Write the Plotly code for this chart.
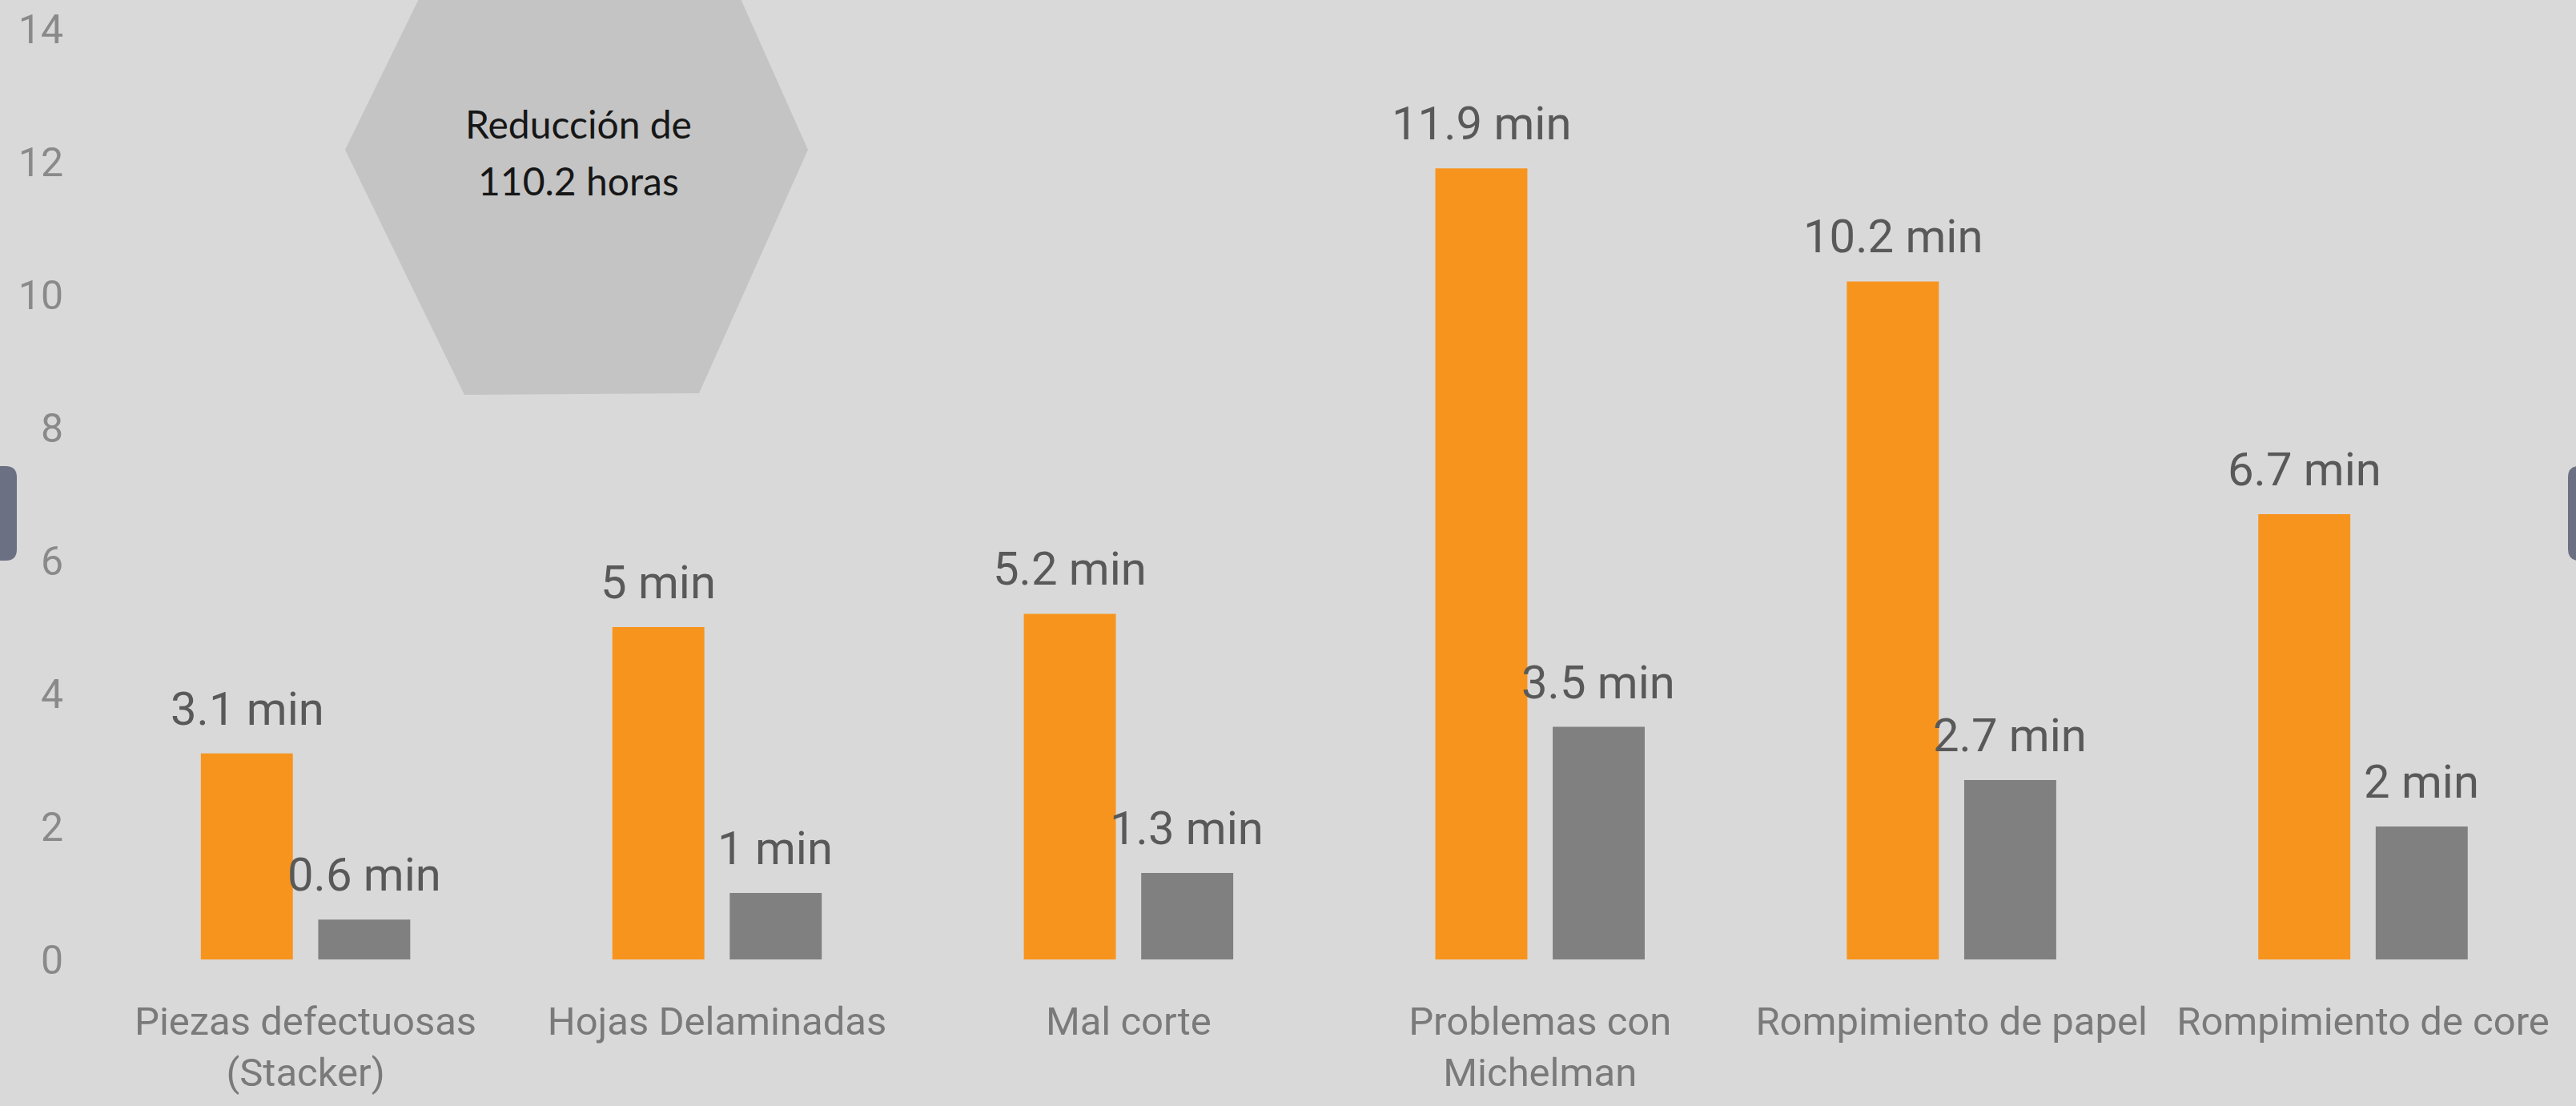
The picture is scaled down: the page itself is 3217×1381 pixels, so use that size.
import plotly.graph_objects as go

categories = ["Piezas defectuosas<br>(Stacker)", "Hojas Delaminadas", "Mal corte",
              "Problemas con<br>Michelman", "Rompimiento de papel", "Rompimiento de core"]
antes = [3.1, 5, 5.2, 11.9, 10.2, 6.7]
despues = [0.6, 1, 1.3, 3.5, 2.7, 2]
y_ticks = [0, 2, 4, 6, 8, 10, 12, 14]
hex_lines = ["Reducción de", "110.2 horas"]

W, H = 3217, 1381
ML, MR, MT, MB = 90, 0, 36, 183
PW, PH = W - ML - MR, H - MT - MB

def px(x):
    return (x - ML) / PW

def py(y):
    return (H - MB - y) / PH

NARROW = "Liberation Sans Narrow, Arial Narrow, Roboto, sans-serif"
ORANGE = "#F7941E"
GRAY = "#808080"

fig = go.Figure()
fig.add_trace(go.Bar(x=categories, y=antes, marker_color=ORANGE, marker_line_width=0, name="Antes"))
fig.add_trace(go.Bar(x=categories, y=despues, marker_color=GRAY, marker_line_width=0, name="Después"))

for series, shift in ((antes, -73), (despues, 73)):
    for c, v in zip(categories, series):
        fig.add_annotation(x=c, y=v, xref="x", yref="y", text=f"{v:g} min", showarrow=False,
                           xshift=shift, yshift=20, yanchor="bottom", xanchor="center",
                           font=dict(family=NARROW, size=58, color="#595959"))

# hexagon
hx = [(580, -118), (873, -118), (1009, 187), (873, 491), (580, 493), (431, 187)]
path = "M " + " L ".join(f"{px(a):.5f},{py(b):.5f}" for a, b in hx) + " Z"
fig.add_shape(type="path", path=path, xref="paper", yref="paper", fillcolor="#C4C4C4",
              line_width=0, layer="below")
for line, yc in zip(hex_lines, (154, 226)):
    fig.add_annotation(x=px(722), y=py(yc), xref="paper", yref="paper", text=line,
                       showarrow=False, xanchor="center", yanchor="middle", align="center",
                       font=dict(family="Lato, Carlito, sans-serif", size=48, color="#161616"))

# side tabs with rounded inner corners
def tab(xa, xb, y0, y1, r, inner_right):
    if inner_right:
        pts = (f"M {px(xa)},{py(y0)} L {px(xb - r)},{py(y0)} "
               f"Q {px(xb)},{py(y0)} {px(xb)},{py(y0 + r)} L {px(xb)},{py(y1 - r)} "
               f"Q {px(xb)},{py(y1)} {px(xb - r)},{py(y1)} L {px(xa)},{py(y1)} Z")
    else:
        pts = (f"M {px(xb)},{py(y0)} L {px(xa + r)},{py(y0)} "
               f"Q {px(xa)},{py(y0)} {px(xa)},{py(y0 + r)} L {px(xa)},{py(y1 - r)} "
               f"Q {px(xa)},{py(y1)} {px(xa + r)},{py(y1)} L {px(xb)},{py(y1)} Z")
    fig.add_shape(type="path", path=pts, xref="paper", yref="paper", fillcolor="#6B7182",
                  line_width=0, layer="above")

tab(-20, 21, 582, 700, 14, True)
tab(3207, 3240, 582, 700, 14, False)

fig.update_layout(
    width=W, height=H,
    margin=dict(l=ML, r=MR, t=MT, b=MB),
    paper_bgcolor="#D9D9D9", plot_bgcolor="#D9D9D9",
    barmode="group", bargap=0.4295, bargroupgap=0.216,
    showlegend=False,
    xaxis=dict(range=[-0.5674, 5.5176], showgrid=False, showline=False, zeroline=False,
               tickangle=0, ticklabelstandoff=44,
               tickfont=dict(family=NARROW, size=49, color="#7A7A7A"), ticks=""),
    yaxis=dict(range=[0, 14], tickvals=y_ticks, showgrid=False, showline=False, zeroline=False,
               ticklabelstandoff=10,
               tickfont=dict(family=NARROW, size=50, color="#8A8A8A"), ticks=""),
)

fig.write_html("out.html")
